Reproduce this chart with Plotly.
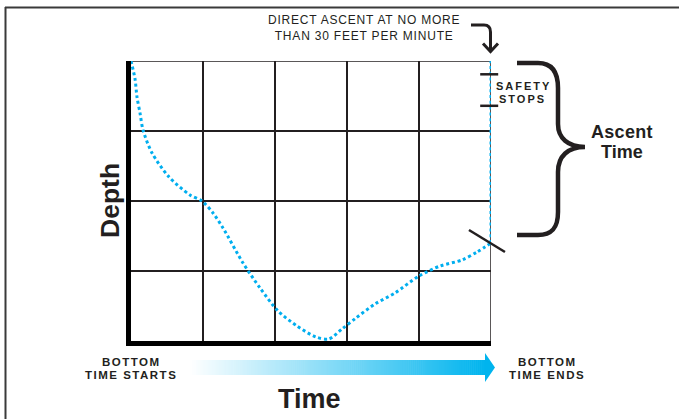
import plotly.graph_objects as go

# Dive profile, in grid units: time across (5 columns), depth down (4 rows)
time_pts = [0.0, 0.056, 0.083, 0.125, 0.167, 0.292, 0.528, 0.819, 0.986, 1.139, 1.278,
            1.556, 1.792, 2.042, 2.306, 2.569, 2.75, 2.931, 3.125, 3.389, 3.667, 4.0,
            4.292, 4.597, 4.806, 5.0]
depth_pts = [0.0, 0.257, 0.514, 0.743, 0.986, 1.314, 1.657, 1.914, 2.0, 2.171, 2.386,
             2.886, 3.243, 3.571, 3.786, 3.943, 3.97, 3.829, 3.671, 3.471, 3.314, 3.071,
             2.929, 2.843, 2.729, 2.6]

# Direct ascent at the end of the dive
ascent_time = [5.0, 5.0]
ascent_depth = [2.6, 0.0]

# Safety stop depths marked on the ascent line
safety_stop_depths = [0.19, 0.64]

X_RANGE = (0.0, 5.0)
Y_RANGE = (4.0, 0.0)

W, H = 679, 419
ML, MR, MT, MB = 131, 188, 61, 78
PW, PH = W - ML - MR, H - MT - MB

BLUE = "#00AEEF"
INK = "#231F20"
FONT = "Liberation Sans, Arial, sans-serif"


def px(x):
    return (x - ML) / PW


def py(y):
    return (H - MB - y) / PH


def dx(v):
    """Data time value -> paper x (so marks can sit outside the plot area)."""
    return (v - X_RANGE[0]) / (X_RANGE[1] - X_RANGE[0])


def dy(v):
    """Data depth value -> paper y."""
    return (v - Y_RANGE[0]) / (Y_RANGE[1] - Y_RANGE[0])


def path_px(cmds):
    """Build an SVG path in paper units from (command, [x, y, ...]) pixel pairs."""
    out = []
    for c, pts in cmds:
        coords = []
        for i in range(0, len(pts), 2):
            coords.append(f"{px(pts[i]):.5f},{py(pts[i + 1]):.5f}")
        out.append(c + " " + " ".join(coords))
    return " ".join(out)


fig = go.Figure()

fig.add_trace(go.Scatter(
    x=time_pts, y=depth_pts, mode="lines",
    line=dict(color=BLUE, width=3, dash="3px,2.8px", shape="spline", smoothing=0.8),
    hoverinfo="skip", showlegend=False))
fig.add_trace(go.Scatter(
    x=ascent_time, y=ascent_depth, mode="lines",
    line=dict(color=BLUE, width=3, dash="3px,2.8px"),
    hoverinfo="skip", showlegend=False))

shapes = []
# Thin top and right edges of the grid
shapes.append(dict(type="line", xref="x", yref="y", x0=0, x1=5, y0=0, y1=0,
                   line=dict(color=INK, width=1.5), layer="below"))
shapes.append(dict(type="line", xref="x", yref="y", x0=5, x1=5, y0=0, y1=4,
                   line=dict(color=INK, width=1.5), layer="below"))

# Safety-stop ticks (extend past the right edge of the grid)
for d in safety_stop_depths:
    shapes.append(dict(type="line", xref="paper", yref="paper",
                       x0=dx(4.85), x1=dx(5.1), y0=dy(d), y1=dy(d),
                       line=dict(color=INK, width=2.5)))

# Slash where the ascent begins
shapes.append(dict(type="line", xref="paper", yref="paper",
                   x0=dx(4.694), x1=dx(5.194), y0=dy(2.414), y1=dy(2.729),
                   line=dict(color=INK, width=2.5)))

# Outer frame
shapes.append(dict(type="line", xref="paper", yref="paper", x0=px(5), x1=px(679),
                   y0=py(7.5), y1=py(7.5), line=dict(color="#3a3a3a", width=2)))
shapes.append(dict(type="line", xref="paper", yref="paper", x0=px(5.5), x1=px(5.5),
                   y0=py(7), y1=py(419), line=dict(color="#3a3a3a", width=2)))

# Hooked arrow pointing at the top of the ascent
shapes.append(dict(type="path", xref="paper", yref="paper",
                   path=path_px([("M", [471, 25]), ("L", [484, 25]),
                                 ("Q", [490.5, 25, 490.5, 32]), ("L", [490.5, 51])]),
                   line=dict(color=INK, width=3)))
shapes.append(dict(type="path", xref="paper", yref="paper",
                   path=path_px([("M", [483, 43.5]), ("L", [490.5, 51.5]), ("L", [498, 43.5])]),
                   line=dict(color=INK, width=3)))

# Curly brace for ascent time
shapes.append(dict(type="path", xref="paper", yref="paper",
                   path=path_px([("M", [517, 63]), ("L", [538, 63]),
                                 ("C", [552, 63, 558, 72, 558, 88]), ("L", [558, 124]),
                                 ("C", [558, 138, 568, 147, 585, 147]),
                                 ("C", [568, 147, 558, 156, 558, 172]), ("L", [558, 212]),
                                 ("C", [558, 228, 552, 235, 538, 235]), ("L", [517, 235])]),
                   line=dict(color=INK, width=4.5)))

# Gradient time arrow
x_start, x_head, x_tip = 190.0, 485.0, 495.0
y_top, y_bot = 360.0, 375.0
end_rgb = (0, 180, 238)
n = 150
step = (x_head - x_start) / n
for i in range(n):
    t = (i + 0.5) / n
    r = round(255 + (end_rgb[0] - 255) * t)
    g = round(255 + (end_rgb[1] - 255) * t)
    b = round(255 + (end_rgb[2] - 255) * t)
    x0 = x_start + i * step
    shapes.append(dict(type="rect", xref="paper", yref="paper",
                       x0=px(x0), x1=px(x0 + step + 0.6), y0=py(y_bot), y1=py(y_top),
                       fillcolor=f"rgb({r},{g},{b})", line=dict(width=0), layer="below"))
shapes.append(dict(type="path", xref="paper", yref="paper",
                   path=path_px([("M", [x_head, 353]), ("L", [x_tip, 367.5]),
                                 ("L", [x_head, 382])]) + " Z",
                   fillcolor=f"rgb{end_rgb}", line=dict(width=0), layer="below"))


def ann(text, x, y, size, bold=False, spacing=0.0, angle=0):
    t = text
    if spacing:
        t = f'<span style="letter-spacing:{spacing}px">{t}</span>'
    if bold:
        t = f"<b>{t}</b>"
    return dict(text=t, xref="paper", yref="paper", x=px(x), y=py(y),
                xanchor="center", yanchor="middle", showarrow=False, textangle=angle,
                font=dict(family=FONT, size=size, color=INK))


annotations = [
    ann('DIRECT ASCENT AT NO MORE<br><span style="letter-spacing:0.8px">'
        'THAN 30 FEET PER MINUTE</span>', 364, 28, 12, spacing=0.8),
    ann("SAFETY", 523, 85.5, 11, bold=True, spacing=2),
    ann("STOPS", 522.5, 98.5, 11, bold=True, spacing=2),
    ann("Ascent", 622, 132, 18, bold=True, spacing=0.3),
    ann("Time", 622, 152, 18, bold=True),
    ann("BOTTOM", 131, 362, 11.5, bold=True, spacing=1.5),
    ann("TIME STARTS", 131, 374.5, 11.5, bold=True, spacing=1.5),
    ann("BOTTOM", 547, 362, 11.5, bold=True, spacing=1.5),
    ann("TIME ENDS", 547, 374.5, 11.5, bold=True, spacing=1.5),
    ann("Time", 309, 399, 27, bold=True),
    ann("Depth", 110, 201, 26.5, bold=True, angle=-90),
]

fig.update_layout(
    width=W, height=H,
    margin=dict(l=ML, r=MR, t=MT, b=MB, pad=0),
    paper_bgcolor="white", plot_bgcolor="white",
    showlegend=False,
    shapes=shapes,
    annotations=annotations,
    xaxis=dict(range=list(X_RANGE), tick0=0, dtick=1, showgrid=True, gridcolor=INK,
               gridwidth=1.5, zeroline=False, showline=True, linecolor="black", linewidth=5,
               showticklabels=False, ticks="", fixedrange=True),
    yaxis=dict(range=list(Y_RANGE), tick0=0, dtick=1, showgrid=True, gridcolor=INK,
               gridwidth=1.5, zeroline=False, showline=True, linecolor="black", linewidth=5,
               showticklabels=False, ticks="", fixedrange=True),
)

fig.write_html("out.html", config={"displayModeBar": False})
